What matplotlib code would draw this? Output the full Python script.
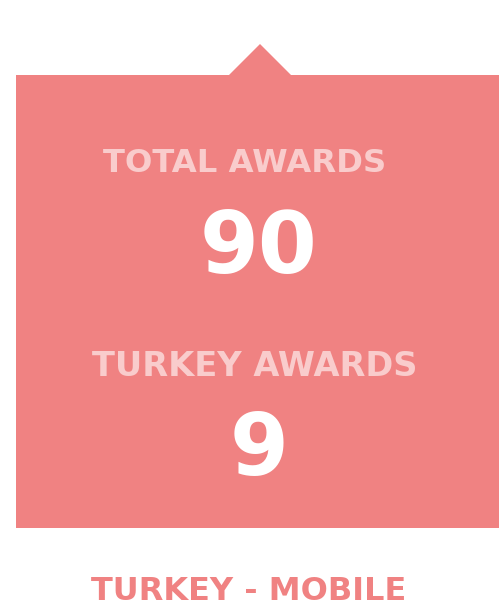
import matplotlib
matplotlib.use("Agg")
import matplotlib.pyplot as plt
from matplotlib.patches import Polygon, Rectangle

# Data
labels = ["TOTAL AWARDS", "TURKEY AWARDS"]
values = [90, 9]
title = "TURKEY - MOBILE"

BOX = "#f08282"
LABEL_C = "#f9cccc"
FONT = ["DejaVu Sans"]

fig = plt.figure(figsize=(4.99, 6.16), dpi=100)
ax = fig.add_axes([0, 0, 1, 1])
ax.set_xlim(0, 499)
ax.set_ylim(616, 0)
ax.axis("off")

ax.add_patch(Rectangle((16, 75), 499 - 16, 528 - 75, facecolor=BOX, edgecolor="none"))
ax.add_patch(Polygon([(228, 76), (260, 44), (292, 76)], closed=True, facecolor=BOX, edgecolor="none"))

label_y = [164, 366]
value_y = [250, 451]
label_x = [245, 255]
label_fs = [23.2, 24.2]
for lab, val, ly, vy, lx, fs in zip(labels, values, label_y, value_y, label_x, label_fs):
    ax.text(lx, ly, lab, ha="center", va="center", fontsize=fs, fontweight="bold",
            color=LABEL_C, family=FONT)
    ax.text(259, vy, str(val), ha="center", va="center", fontsize=61, fontweight="bold",
            color="white", family=FONT)

ax.text(249, 591, title, ha="center", va="center", fontsize=23, fontweight="bold",
        color=BOX, family=FONT)

fig.savefig("out.png", dpi=100, facecolor="white")
